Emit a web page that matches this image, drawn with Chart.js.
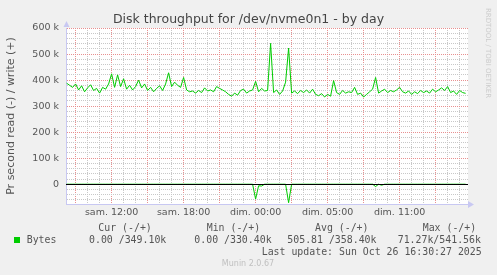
<!DOCTYPE html>
<html>
<head>
<meta charset="utf-8">
<script src="https://cdn.jsdelivr.net/npm/chart.js@4.4.1/dist/chart.umd.min.js"></script>
<style>
  html, body { margin: 0; padding: 0; background: #f0f0f0; }
  canvas { display: block; }
</style>
</head>
<body>
<canvas id="diskChart" width="497" height="275"></canvas>
<script>
// samples every 15 min, hours counted from saturday 00:00
const startHour = 8.25;
const stepHour = 0.25;

// write bytes per second, in k (+)
const writeK = [
  388, 380, 372, 385, 362, 378, 355, 370, 382, 360, 368, 350, 372, 365, 385,
  424, 372, 420, 375, 405, 365, 380, 362, 375, 400, 370, 385, 360, 372, 355,
  368, 378, 360, 385, 428, 375, 392, 380, 372, 410, 362, 355, 358, 350, 360,
  352, 370, 358, 362, 355, 375, 368, 362, 355, 345, 338, 350, 342, 360, 365,
  350, 358, 362, 395, 355, 368, 358, 360, 541, 352, 362, 345, 358, 392, 523,
  350, 358, 348, 360, 352, 362, 350, 365, 345, 340, 348, 335, 345, 338, 398,
  352, 345, 360, 350, 355, 352, 372, 345, 350, 335, 345, 355, 365, 410, 350,
  358, 365, 352, 360, 355, 362, 372, 355, 350, 358, 345, 355, 348, 360, 352,
  358, 350, 365, 355, 362, 370, 360, 375, 352, 358, 345, 360, 352, 349
];

// read bytes per second, in k (drawn below zero)
const readK = [
  0, 0, 0, 0, 0, 0, 0, 0, 0, 0, 0, 0, 0, 0, 0,
  0, 0, 0, 0, 0, 0, 0, 0, 0, 0, 0, 0, 0, 0, 0,
  0, 0, 0, 0, 0, 0, 0, 0, 0, 0, 0, 0, 0, 0, 0,
  0, 0, 0, 0, 0, 0, 0, 0, 0, 0, 0, 0, 0, 0, 0,
  0, 0, 0, 57, 6, 7, 0, 0, 0, 0, 0, 0, 0, 0, 71,
  0, 0, 0, 0, 0, 0, 0, 0, 0, 0, 0, 0, 0, 0, 0,
  0, 0, 0, 0, 0, 0, 0, 0, 0, 0, 0, 0, 0, 9, 0,
  4, 0, 0, 0, 0, 0, 0, 0, 0, 0, 0, 0, 0, 0, 0,
  0, 0, 0, 0, 0, 0, 0, 0, 0, 0, 0, 0, 0, 0
];

const tickHours = [12, 18, 24, 30, 36];
const tickLabels = ["sam. 12:00", "sam. 18:00", "dim. 00:00", "dim. 05:00", "dim. 11:00"];

const chartTitle = "Disk throughput for /dev/nvme0n1 - by day";
const legendHeaders = ["Cur (-/+)", "Min (-/+)", "Avg (-/+)", "Max (-/+)"];
const legendValues = ["0.00 /349.10k", "0.00 /330.40k", "505.81 /358.40k", "71.27k/541.56k"];
const seriesName = "Bytes";
const lastUpdate = "Last update: Sun Oct 26 16:30:27 2025";

const green = "#00cc00";
const textGray = "#555555";
const majorGrid = "#e89090";
const minorGrid = "#c8c8c8";
const axisBlue = "#c8c8f2";

function toPoints(values, sign) {
  return values.map((v, i) => ({ x: startHour + i * stepHour, y: sign * v * 1000 }));
}

const muninDecor = {
  id: "muninDecor",
  beforeDraw(chart) {
    const { ctx, chartArea: a } = chart;
    ctx.save();
    ctx.fillStyle = "#ffffff";
    ctx.fillRect(a.left, a.top, a.right - a.left, a.bottom - a.top);

    // title, centred on the whole image like rrdtool does
    ctx.font = '12.5px "DejaVu Sans", sans-serif';
    ctx.fillStyle = "#444444";
    ctx.textAlign = "center";
    ctx.textBaseline = "middle";
    ctx.fillText(chartTitle, chart.width / 2, 19.5);
    ctx.restore();
  },
  afterDatasetsDraw(chart) {
    const { ctx, chartArea: a } = chart;
    const y0 = Math.round(chart.scales.y.getPixelForValue(0)) + 0.5;
    ctx.save();
    ctx.strokeStyle = "#000000";
    ctx.lineWidth = 1;
    ctx.beginPath();
    ctx.moveTo(a.left, y0);
    ctx.lineTo(a.right, y0);
    ctx.stroke();
    ctx.restore();
  },
  afterDraw(chart) {
    const { ctx, chartArea: a } = chart;
    ctx.save();

    // axis arrows
    ctx.fillStyle = axisBlue;
    ctx.beginPath();
    ctx.moveTo(a.left - 2.5, a.top - 1);
    ctx.lineTo(a.left + 0.5, a.top - 7);
    ctx.lineTo(a.left + 3.5, a.top - 1);
    ctx.fill();
    ctx.beginPath();
    ctx.moveTo(a.right, a.bottom - 3);
    ctx.lineTo(a.right + 6, a.bottom + 0.5);
    ctx.lineTo(a.right, a.bottom + 4);
    ctx.fill();

    // legend block
    ctx.font = '9.9px "DejaVu Sans Mono", monospace';
    ctx.fillStyle = textGray;
    ctx.textBaseline = "middle";
    ctx.textAlign = "left";
    const headX = [98.3, 206.7, 315, 422.7];
    const valX = [89, 194.3, 287.3, 397.7];
    legendHeaders.forEach((h, i) => ctx.fillText(h, headX[i], 228));
    legendValues.forEach((v, i) => ctx.fillText(v, valX[i], 240));
    ctx.fillText(seriesName, 26.7, 240);
    ctx.fillText(lastUpdate, 261.7, 252);

    ctx.fillStyle = green;
    ctx.fillRect(14, 237, 6, 6);

    // footer and watermark
    ctx.font = '8px "DejaVu Sans", sans-serif';
    ctx.fillStyle = "#c0c0c0";
    ctx.textAlign = "center";
    ctx.fillText("Munin 2.0.67", 248, 264);

    ctx.translate(487.5, 53);
    ctx.rotate(Math.PI / 2);
    ctx.font = '7px "DejaVu Sans", sans-serif';
    ctx.fillStyle = "#cccccc";
    ctx.fillText("RRDTOOL / TOBI OETIKER", 0, 0);
    ctx.restore();
  }
};

new Chart(document.getElementById("diskChart"), {
  type: "line",
  data: {
    datasets: [
      {
        label: "read",
        data: toPoints(readK, -1),
        borderColor: green,
        borderWidth: 1,
        pointRadius: 0,
        tension: 0
      },
      {
        label: "write",
        data: toPoints(writeK, 1),
        borderColor: green,
        borderWidth: 1,
        pointRadius: 0,
        tension: 0
      }
    ]
  },
  options: {
    responsive: false,
    animation: false,
    layout: { padding: { top: 28, right: 29, bottom: 51, left: 0 } },
    plugins: {
      legend: { display: false },
      tooltip: { enabled: false },
      title: { display: false }
    },
    scales: {
      x: {
        type: "linear",
        min: 8.2,
        max: 41.7,
        afterBuildTicks: (axis) => {
          const ticks = [];
          for (let h = 9; h <= 41; h++) ticks.push({ value: h });
          axis.ticks = ticks;
        },
        afterFit: (scale) => { scale.height = 20; },
        ticks: {
          autoSkip: false,
          maxRotation: 0,
          minRotation: 0,
          padding: 3,
          color: textGray,
          font: { family: "DejaVu Sans", size: 9.5 },
          callback: (v) => {
            const idx = tickHours.indexOf(v);
            return idx >= 0 ? tickLabels[idx] : "";
          }
        },
        grid: {
          drawTicks: false,
          lineWidth: 1,
          color: (c) => (c.tick && c.tick.value % 3 === 0 ? majorGrid : minorGrid)
        },
        border: { color: axisBlue, dash: [1, 1] }
      },
      y: {
        min: -76000,
        max: 600000,
        afterBuildTicks: (axis) => {
          const ticks = [];
          for (let v = -60000; v <= 600000; v += 20000) ticks.push({ value: v });
          axis.ticks = ticks;
        },
        afterFit: (scale) => { scale.width = 66; },
        ticks: {
          autoSkip: false,
          padding: 7,
          color: textGray,
          font: { family: "DejaVu Sans", size: 9.5 },
          callback: (v) => {
            if (v === 0) return "0";
            return v > 0 && v % 100000 === 0 ? v / 1000 + " k" : "";
          }
        },
        grid: {
          drawTicks: false,
          lineWidth: 1,
          color: (c) => {
            if (!c.tick) return minorGrid;
            if (c.tick.value === 0) return "rgba(0,0,0,0)";
            return c.tick.value % 100000 === 0 ? majorGrid : minorGrid;
          }
        },
        border: { color: axisBlue, dash: [1, 1] },
        title: {
          display: true,
          text: "Pr second read (-) / write (+)",
          color: textGray,
          font: { family: "DejaVu Sans", size: 11 },
          padding: { top: 4.5, bottom: 0 }
        }
      }
    }
  },
  plugins: [muninDecor]
});
</script>
</body>
</html>
